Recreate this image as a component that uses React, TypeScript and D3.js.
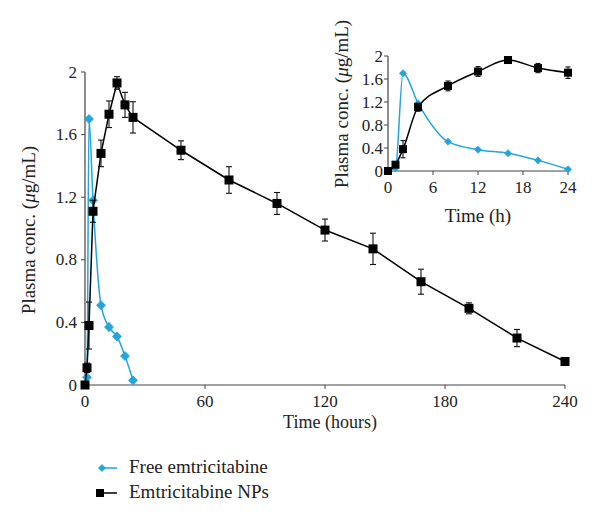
import React from "react";
import * as d3 from "d3";

const npTimes = [0, 1, 2, 4, 8, 12, 16, 20, 24, 48, 72, 96, 120, 144, 168, 192, 216, 240];
const npValues = [0, 0.11, 0.38, 1.11, 1.48, 1.73, 1.93, 1.79, 1.71, 1.5, 1.31, 1.16, 0.99, 0.87, 0.66, 0.49, 0.3, 0.15];
const npErrors = [0, 0.03, 0.15, 0.07, 0.085, 0.085, 0.04, 0.08, 0.1, 0.06, 0.085, 0.07, 0.07, 0.1, 0.08, 0.035, 0.055, 0.01];

const freeTimes = [0, 1, 2, 4, 8, 12, 16, 20, 24];
const freeValues = [0, 0.05, 1.7, 1.18, 0.51, 0.37, 0.31, 0.185, 0.03];
const freeErrors = [0, 0, 0.02, 0.02, 0.02, 0.03, 0.01, 0.01, 0.01];

const mainXTicks = [0, 60, 120, 180, 240];
const mainYTicks = [0, 0.4, 0.8, 1.2, 1.6, 2];
const insetXTicks = [0, 6, 12, 18, 24];
const insetYTicks = [0, 0.4, 0.8, 1.2, 1.6, 2];

const seriesNames = ["Free emtricitabine", "Emtricitabine NPs"];

const BLUE = "#22a5dd";
const AXIS = "#444";
const FONT = "'Liberation Serif', 'Times New Roman', serif";

const fmt = (v: number) => (v === 0 || v === 2 ? String(v) : v.toFixed(1));

function Diamond({ x, y, s }: { x: number; y: number; s: number }) {
  return (
    <path
      d={`M${x},${y - s}L${x + s},${y}L${x},${y + s}L${x - s},${y}Z`}
      fill={BLUE}
      stroke={BLUE}
      strokeWidth={0.8}
    />
  );
}

function Panel(props: {
  x0: number;
  x1: number;
  y0: number;
  y1: number;
  xDomain: [number, number];
  xTicks: number[];
  yTicks: number[];
  mainNP: boolean;
  npCount: number;
  sq: number;
  dm: number;
  fontSize: number;
  xLabelDy: number;
  yLabelDx: number;
}) {
  const { x0, x1, y0, y1, xDomain, xTicks, yTicks, npCount, sq, dm, fontSize, mainNP, xLabelDy, yLabelDx } = props;
  const x = d3.scaleLinear().domain(xDomain).range([x0, x1]);
  const y = d3.scaleLinear().domain([0, 2]).range([y0, y1]);

  const npPts = npTimes.slice(0, npCount).map((t, i) => [t, npValues[i], npErrors[i]] as const);
  const freePts = freeTimes.map((t, i) => [t, freeValues[i], freeErrors[i]] as const);

  const npLine = d3
    .line<readonly [number, number, number]>()
    .x((d) => x(d[0]))
    .y((d) => y(d[1]))
    .curve(mainNP ? d3.curveLinear : d3.curveMonotoneX);
  const freeLine = d3
    .line<readonly [number, number, number]>()
    .x((d) => x(d[0]))
    .y((d) => y(d[1]))
    .curve(d3.curveMonotoneX);

  const cap = mainNP ? 3 : 2.5;

  return (
    <g>
      <line x1={x0} x2={x1} y1={y0} y2={y0} stroke={AXIS} strokeWidth={1.2} />
      <line x1={x0} x2={x0} y1={y0} y2={y1} stroke={AXIS} strokeWidth={1.2} />
      {xTicks.map((t) => (
        <g key={"xt" + t}>
          <line x1={x(t)} x2={x(t)} y1={y0} y2={y0 + 4} stroke={AXIS} strokeWidth={1} />
          <text x={x(t)} y={y0 + xLabelDy} textAnchor="middle" fontSize={fontSize} fontFamily={FONT} fill="#222">
            {t}
          </text>
        </g>
      ))}
      {yTicks.map((t) => (
        <g key={"yt" + t}>
          <line x1={x0 - 4} x2={x0} y1={y(t)} y2={y(t)} stroke={AXIS} strokeWidth={1} />
          <text x={x0 - yLabelDx} y={y(t) + fontSize * 0.33} textAnchor="end" fontSize={fontSize} fontFamily={FONT} fill="#222">
            {fmt(t)}
          </text>
        </g>
      ))}

      <path d={freeLine(freePts) || ""} fill="none" stroke={BLUE} strokeWidth={1.5} />
      {freePts.map((d, i) =>
        d[2] > 0.015 ? (
          <g key={"fe" + i} stroke={BLUE} strokeWidth={1}>
            <line x1={x(d[0])} x2={x(d[0])} y1={y(d[1] - d[2])} y2={y(d[1] + d[2])} />
          </g>
        ) : null
      )}
      {freePts.map((d, i) => (i === 0 ? null : <Diamond key={"fd" + i} x={x(d[0])} y={y(d[1])} s={dm} />))}

      <path d={npLine(npPts) || ""} fill="none" stroke="#000" strokeWidth={1.5} />
      {npPts.map((d, i) =>
        d[2] > 0.02 ? (
          <g key={"ne" + i} stroke="#111" strokeWidth={1.1}>
            <line x1={x(d[0])} x2={x(d[0])} y1={y(d[1] - d[2])} y2={y(d[1] + d[2])} />
            <line x1={x(d[0]) - cap} x2={x(d[0]) + cap} y1={y(d[1] - d[2])} y2={y(d[1] - d[2])} />
            <line x1={x(d[0]) - cap} x2={x(d[0]) + cap} y1={y(d[1] + d[2])} y2={y(d[1] + d[2])} />
          </g>
        ) : null
      )}
      {npPts.map((d, i) => (
        <rect key={"nm" + i} x={x(d[0]) - sq / 2} y={y(d[1]) - sq / 2} width={sq} height={sq} fill="#000" />
      ))}
    </g>
  );
}

export default function App() {
  return (
    <svg width={600} height={526} style={{ display: "block", position: "absolute", left: 0, top: 0 }}>
      <rect width={600} height={526} fill="#fff" />
      <Panel
        x0={85}
        x1={565}
        y0={385}
        y1={72}
        xDomain={[0, 240]}
        xTicks={mainXTicks}
        yTicks={mainYTicks}
        mainNP={true}
        npCount={npTimes.length}
        sq={9}
        dm={4.5}
        fontSize={17}
        xLabelDy={22}
        yLabelDx={8}
      />
      <text transform="translate(35,230) rotate(-90)" textAnchor="middle" fontSize={19} fontFamily={FONT} fill="#222">
        Plasma conc. (<tspan fontStyle="italic">μ</tspan>g/mL)
      </text>
      <text x={330} y={428} textAnchor="middle" fontSize={18} fontFamily={FONT} fill="#222">
        Time (hours)
      </text>

      <Panel
        x0={388}
        x1={568}
        y0={171}
        y1={56}
        xDomain={[0, 24]}
        xTicks={insetXTicks}
        yTicks={insetYTicks}
        mainNP={false}
        npCount={9}
        sq={8}
        dm={3.5}
        fontSize={17}
        xLabelDy={22}
        yLabelDx={5}
      />
      <text transform="translate(348,104) rotate(-90)" textAnchor="middle" fontSize={19} fontFamily={FONT} fill="#222">
        Plasma conc. (<tspan fontStyle="italic">μ</tspan>g/mL)
      </text>
      <text x={478} y={222} textAnchor="middle" fontSize={19} fontFamily={FONT} fill="#222">
        Time (h)
      </text>

      <g>
        <line x1={99} x2={117} y1={468} y2={468} stroke={BLUE} strokeWidth={1.5} />
        <Diamond x={102} y={468} s={3.5} />
        <text x={129} y={473} fontSize={19} fontFamily={FONT} fill="#222">
          {seriesNames[0]}
        </text>
        <line x1={97} x2={117} y1={493} y2={493} stroke="#000" strokeWidth={1.5} />
        <rect x={96} y={489} width={8} height={8} fill="#000" />
        <text x={129} y={498} fontSize={19} fontFamily={FONT} fill="#222">
          {seriesNames[1]}
        </text>
      </g>
    </svg>
  );
}
